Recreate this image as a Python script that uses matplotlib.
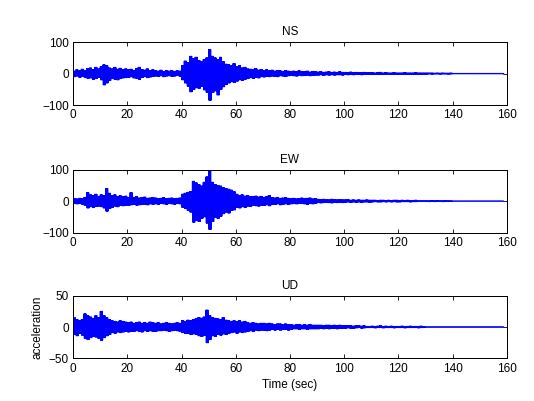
import numpy as np
import matplotlib
matplotlib.use("Agg")
import matplotlib.pyplot as plt

plt.rcParams['font.family'] = ['Liberation Sans', 'DejaVu Sans']

# per-second peak envelopes (positive peak / negative peak magnitude)
ns_up = [8, 12, 10, 14, 9, 16, 18, 12, 20, 15,
         22, 28, 25, 18, 15, 20, 14, 17, 12, 15,
         12, 14, 10, 16, 20, 13, 11, 15, 10, 12,
         9, 8, 11, 7, 9, 8, 10, 6, 9, 8,
         25, 40, 35, 55, 48, 52, 42, 38, 45, 50,
         76, 55, 50, 45, 52, 38, 30, 28, 25, 32,
         22, 25, 18, 20, 15, 14, 12, 16, 11, 13,
         10, 12, 9, 11, 8, 10, 9, 7, 10, 8,
         7, 8, 6, 9, 7, 6, 8, 5, 7, 6,
         5, 6, 4, 5, 6, 4, 5, 4, 6, 4,
         4, 3, 5, 3, 4, 3, 3, 4, 3, 3,
         3, 2, 3, 4, 2, 3, 2, 2, 3, 2,
         2, 2, 3, 2, 2, 2, 3, 2, 2, 2,
         2, 2, 2, 1.5, 2, 1.5, 2, 1.5, 1.5, 2,
         0.8, 0.8, 0.8, 0.8, 0.8, 0.8, 0.8, 0.8, 0.8, 0.8,
         0.8, 0.8, 0.8, 0.8, 0.8, 0.8, 0.8, 0.8, 0.8]
ns_dn = [10, 8, 12, 9, 13, 15, 14, 18, 16, 12,
         20, 36, 30, 22, 16, 18, 20, 15, 14, 13,
         12, 10, 14, 15, 18, 12, 10, 13, 11, 9,
         8, 9, 7, 10, 8, 7, 9, 8, 6, 9,
         20, 30, 40, 58, 50, 45, 47, 40, 52, 60,
         85, 60, 55, 68, 50, 42, 35, 30, 26, 28,
         24, 20, 22, 18, 16, 13, 15, 12, 14, 10,
         11, 9, 10, 8, 9, 10, 7, 8, 9, 7,
         6, 7, 8, 5, 7, 6, 5, 7, 6, 5,
         5, 4, 6, 4, 5, 4, 5, 4, 4, 5,
         3, 4, 3, 4, 3, 3, 4, 3, 3, 2,
         3, 2, 3, 2, 3, 2, 2, 3, 2, 2,
         2, 2, 2, 3, 2, 2, 2, 2, 2, 2,
         2, 1.5, 2, 1.5, 1.5, 2, 1.5, 1.5, 2, 1.5,
         0.8, 0.8, 0.8, 0.8, 0.8, 0.8, 0.8, 0.8, 0.8, 0.8,
         0.8, 0.8, 0.8, 0.8, 0.8, 0.8, 0.8, 0.8, 0.8]

ew_up = [8, 7, 9, 8, 12, 27, 20, 18, 22, 15,
         20, 18, 40, 25, 18, 20, 15, 17, 14, 16,
         12, 27, 12, 14, 10, 11, 13, 9, 10, 11,
         10, 8, 9, 11, 8, 9, 10, 8, 9, 10,
         22, 25, 28, 30, 63, 58, 53, 48, 60, 77,
         95, 60, 53, 50, 48, 43, 40, 38, 35, 30,
         22, 18, 20, 16, 18, 15, 14, 16, 13, 15,
         12, 14, 18, 11, 10, 12, 9, 10, 11, 9,
         8, 9, 7, 8, 10, 8, 9, 10, 7, 8,
         6, 5, 6, 5, 4, 6, 5, 4, 5, 4,
         4, 5, 3, 4, 3, 4, 3, 3, 4, 3,
         3, 3, 2, 3, 3, 2, 3, 2, 3, 3,
         2, 3, 2, 3, 2, 2, 3, 1, 1, 1,
         1, 1, 2, 1, 2, 1, 1, 2, 1, 1,
         0.5, 0.5, 0.5, 0.5, 0.5, 0.5, 0.5, 0.5, 0.5, 0.5,
         0.5, 0.5, 0.5, 0.5, 0.5, 0.5, 0.5, 0.5, 0.5]
ew_dn = [7, 9, 8, 10, 14, 22, 18, 20, 17, 16,
         18, 22, 32, 24, 20, 16, 18, 14, 15, 13,
         14, 12, 11, 13, 12, 10, 11, 12, 9, 10,
         9, 10, 8, 9, 10, 8, 9, 10, 8, 9,
         20, 24, 30, 35, 67, 62, 65, 55, 50, 70,
         90, 65, 51, 55, 48, 40, 35, 38, 30, 28,
         20, 22, 18, 20, 16, 17, 14, 15, 16, 13,
         14, 12, 15, 10, 11, 9, 12, 10, 9, 10,
         9, 8, 9, 7, 8, 9, 10, 8, 9, 7,
         5, 6, 5, 4, 5, 6, 4, 5, 4, 5,
         4, 3, 4, 3, 4, 3, 4, 3, 3, 4,
         3, 2, 3, 3, 2, 3, 2, 3, 2, 3,
         3, 2, 2, 2, 3, 2, 2, 1, 1, 1,
         1, 2, 1, 2, 1, 1, 2, 1, 1, 1,
         0.5, 0.5, 0.5, 0.5, 0.5, 0.5, 0.5, 0.5, 0.5, 0.5,
         0.5, 0.5, 0.5, 0.5, 0.5, 0.5, 0.5, 0.5, 0.5]

ud_up = [15, 12, 10, 12, 21, 18, 16, 14, 18, 15,
         25, 18, 15, 12, 10, 9, 8, 10, 9, 8,
         7, 8, 6, 7, 8, 6, 7, 6, 8, 7,
         6, 7, 5, 6, 7, 6, 5, 6, 7, 6,
         10, 9, 11, 10, 12, 13, 15, 14, 16, 27,
         18, 15, 14, 13, 12, 15, 11, 10, 9, 10,
         9, 10, 8, 9, 7, 6, 7, 6, 5, 6,
         6, 5, 6, 5, 4, 5, 5, 4, 5, 4,
         4, 3, 4, 4, 3, 4, 3, 4, 3, 3,
         3, 3, 2, 3, 3, 2, 3, 2, 3, 2,
         2, 2, 2, 1.5, 2, 2, 1.5, 2, 1, 1,
         1.5, 1, 1.5, 2, 1, 1.5, 1, 1.5, 1, 1,
         1, 1.5, 1, 1, 1.5, 1, 1, 1, 1.5, 0.5,
         0.3, 0.3, 0.3, 0.3, 0.3, 0.3, 0.3, 0.3, 0.3, 0.3,
         0.3, 0.3, 0.3, 0.3, 0.3, 0.3, 0.3, 0.3, 0.3, 0.3,
         0.3, 0.3, 0.3, 0.3, 0.3, 0.3, 0.3, 0.3, 0.3]
ud_dn = [12, 14, 10, 13, 18, 20, 17, 15, 16, 18,
         21, 17, 14, 12, 9, 10, 8, 9, 8, 7,
         8, 7, 7, 6, 7, 8, 6, 7, 6, 7,
         7, 6, 6, 5, 6, 7, 6, 5, 6, 7,
         9, 10, 10, 12, 11, 12, 14, 15, 13, 25,
         20, 14, 15, 12, 13, 11, 12, 10, 9, 8,
         10, 8, 9, 8, 7, 6, 7, 5, 6, 5,
         5, 6, 5, 4, 5, 4, 5, 4, 4, 5,
         4, 3, 3, 4, 3, 3, 4, 3, 3, 3,
         3, 2, 3, 2, 3, 2, 2, 3, 2, 2,
         2, 1.5, 2, 2, 1.5, 1, 2, 1.5, 1, 1,
         1, 1.5, 1, 1, 1.5, 1, 1, 1, 1.5, 1,
         1, 1, 1.5, 1, 1, 1, 1, 1.5, 1, 0.5,
         0.3, 0.3, 0.3, 0.3, 0.3, 0.3, 0.3, 0.3, 0.3, 0.3,
         0.3, 0.3, 0.3, 0.3, 0.3, 0.3, 0.3, 0.3, 0.3, 0.3,
         0.3, 0.3, 0.3, 0.3, 0.3, 0.3, 0.3, 0.3, 0.3]

titles = ['NS', 'EW', 'UD']
ylims = [100, 100, 50]
yticks = [[-100, 0, 100], [-100, 0, 100], [-50, 0, 50]]
xticks = [0, 20, 40, 60, 80, 100, 120, 140, 160]


def trace(up, dn, k=4):
    # zigzag between the positive and negative peak of each second, k swings per second
    up = np.repeat(np.array(up, dtype=float), k)
    dn = np.repeat(np.array(dn, dtype=float), k)
    step = 1.0 / k
    tt = np.arange(len(up)) * step
    t = np.column_stack([tt, tt + step / 2]).ravel()
    y = np.column_stack([up, -dn]).ravel()
    return t, y


fig = plt.figure(figsize=(5.34, 4.01), dpi=100)
bottoms = [0.738, 0.420, 0.106]
series = [(ns_up, ns_dn), (ew_up, ew_dn), (ud_up, ud_dn)]

for i in range(3):
    ax = fig.add_axes([0.137, bottoms[i], 0.812, 0.157])
    t, y = trace(*series[i])
    ax.plot(t, y, color='#0000ff', lw=0.72)
    ax.set_xlim(0, 160)
    ax.set_ylim(-ylims[i], ylims[i])
    ax.set_xticks(xticks)
    ax.set_yticks(yticks[i])
    ax.tick_params(direction='in', top=True, right=True, length=3, width=0.6,
                   labelsize=8.5, pad=3)
    for s in ax.spines.values():
        s.set_linewidth(0.72)
    ax.set_title(titles[i], fontsize=8.5, pad=5)

ax.set_xlabel('Time (sec)', fontsize=8.5, labelpad=3)
ax.set_ylabel('acceleration', fontsize=8.5, labelpad=4)

fig.savefig('out.png', dpi=100)
